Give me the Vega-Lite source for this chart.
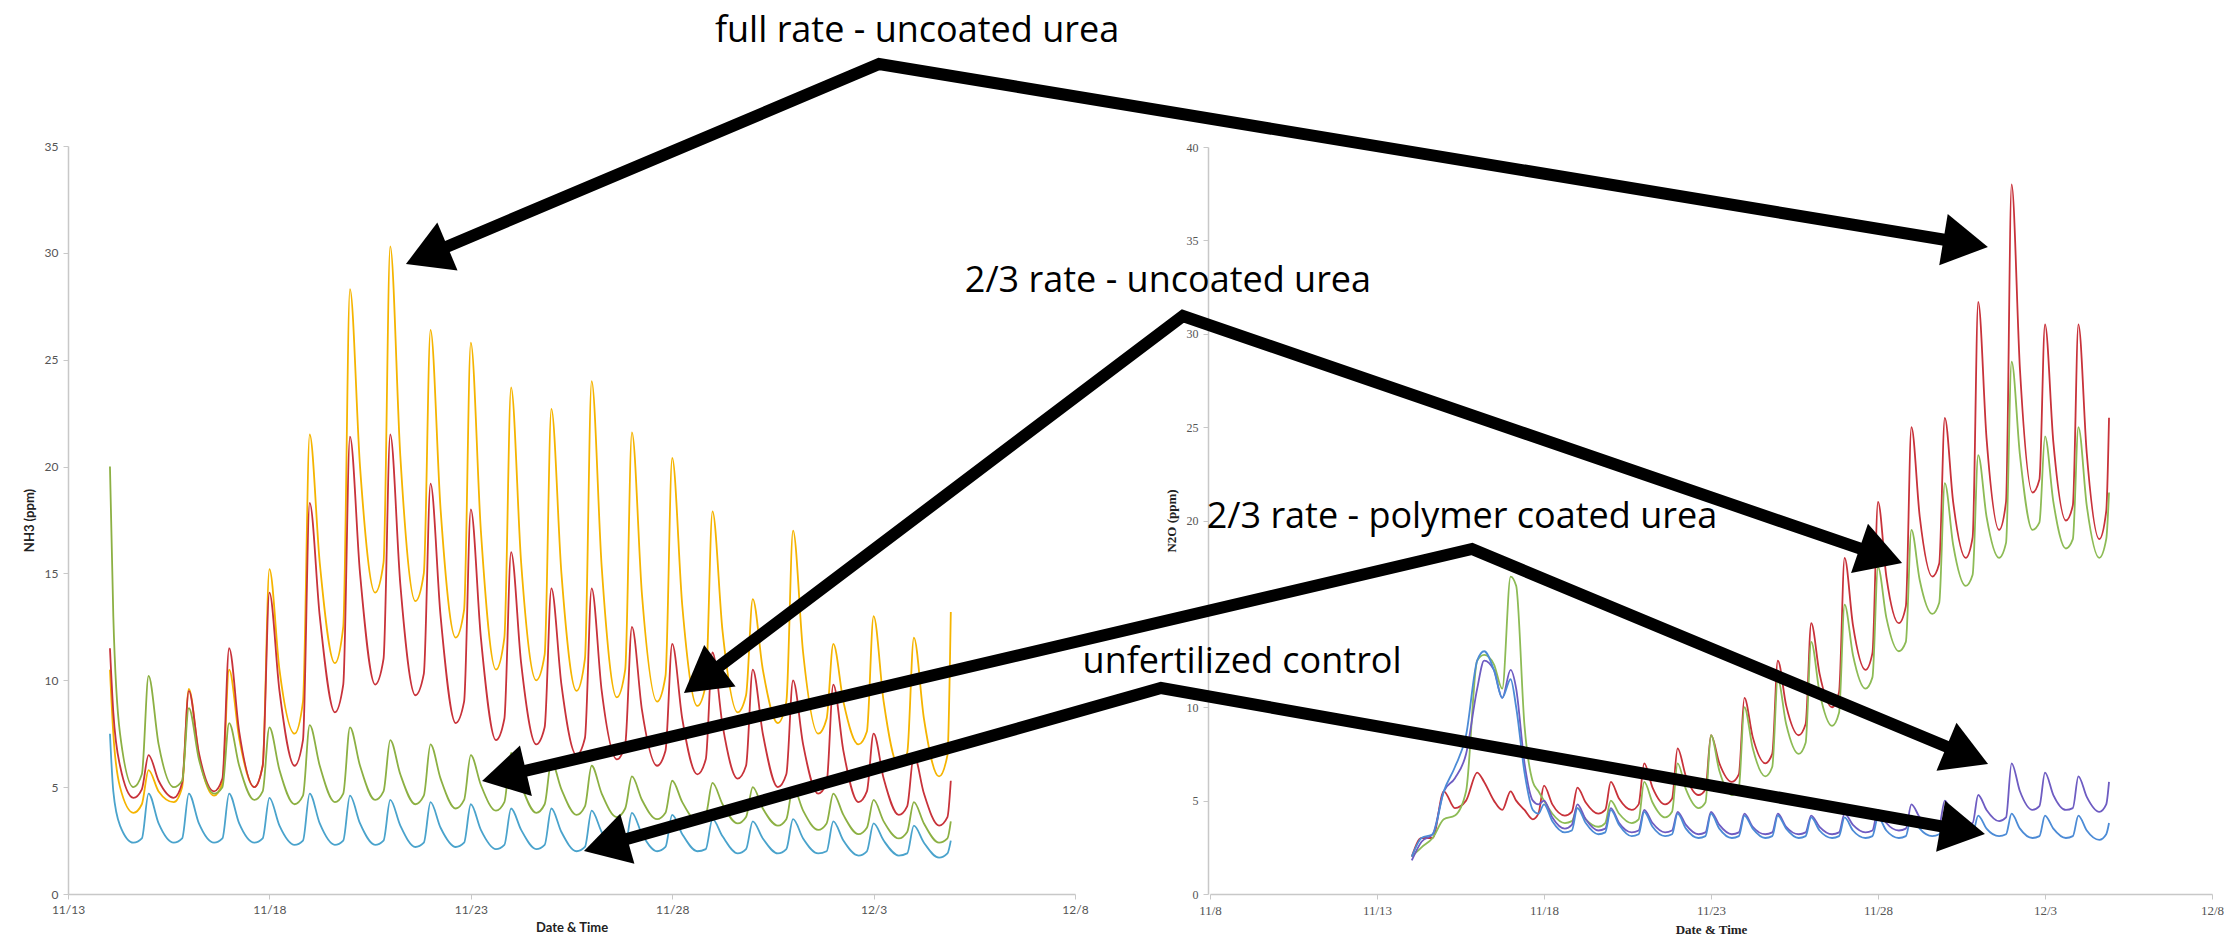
{
"$schema":"https://vega.github.io/schema/vega-lite/v6.json",
"width":2234,"height":894,"autosize":"none","padding":{"left":0,"top":0,"right":0,"bottom":53},
"background":"white",
"config":{"view":{"stroke":null}},
"datasets":{
"left":[
{"t":"2012-11-14T01:00","Y":10.5,"R":11.5,"G":20,"B":7.5},
{"t":"2012-11-14T03:00","Y":7.5,"R":8.5,"G":13,"B":4.8},
{"t":"2012-11-14T07:00","Y":5,"R":6,"G":7.5,"B":3.2},
{"t":"2012-11-14T15:00","Y":3.8,"R":4.5,"G":5,"B":2.4},
{"t":"2012-11-14T20:00","Y":4.2,"R":4.9,"G":5.6,"B":2.6},
{"t":"2012-11-15T00:00","Y":5.8,"R":6.5,"G":10.2,"B":4.7},
{"t":"2012-11-15T06:00","Y":4.8,"R":5.3,"G":7,"B":3.3},
{"t":"2012-11-15T15:00","Y":4.3,"R":4.5,"G":5,"B":2.4},
{"t":"2012-11-15T20:00","Y":5,"R":5.2,"G":5.3,"B":2.6},
{"t":"2012-11-16T00:00","Y":9.6,"R":9.5,"G":8.7,"B":4.7},
{"t":"2012-11-16T06:00","Y":6.5,"R":6.6,"G":6.3,"B":3.3},
{"t":"2012-11-16T15:00","Y":4.6,"R":4.8,"G":4.7,"B":2.4},
{"t":"2012-11-16T20:00","Y":5.2,"R":5.4,"G":5,"B":2.6},
{"t":"2012-11-17T00:00","Y":10.5,"R":11.5,"G":8,"B":4.7},
{"t":"2012-11-17T06:00","Y":7.3,"R":7.6,"G":6,"B":3.3},
{"t":"2012-11-17T15:00","Y":5,"R":5,"G":4.4,"B":2.4},
{"t":"2012-11-17T20:00","Y":6,"R":6,"G":4.8,"B":2.6},
{"t":"2012-11-18T00:00","Y":15.2,"R":14.1,"G":7.8,"B":4.5},
{"t":"2012-11-18T06:00","Y":10.5,"R":9.5,"G":5.8,"B":3.2},
{"t":"2012-11-18T15:00","Y":7.5,"R":6,"G":4.2,"B":2.3},
{"t":"2012-11-18T20:00","Y":9,"R":7.2,"G":4.6,"B":2.5},
{"t":"2012-11-19T00:00","Y":21.5,"R":18.3,"G":7.9,"B":4.7},
{"t":"2012-11-19T06:00","Y":15.5,"R":13,"G":6,"B":3.3},
{"t":"2012-11-19T15:00","Y":10.8,"R":8.5,"G":4.3,"B":2.3},
{"t":"2012-11-19T20:00","Y":12.5,"R":9.8,"G":4.7,"B":2.5},
{"t":"2012-11-20T00:00","Y":28.3,"R":21.4,"G":7.8,"B":4.6},
{"t":"2012-11-20T06:00","Y":20,"R":15,"G":6,"B":3.3},
{"t":"2012-11-20T15:00","Y":14.1,"R":9.8,"G":4.4,"B":2.3},
{"t":"2012-11-20T20:00","Y":15.5,"R":11,"G":4.8,"B":2.5},
{"t":"2012-11-21T00:00","Y":30.3,"R":21.5,"G":7.2,"B":4.4},
{"t":"2012-11-21T06:00","Y":20.5,"R":14.5,"G":5.6,"B":3.2},
{"t":"2012-11-21T15:00","Y":13.7,"R":9.3,"G":4.2,"B":2.2},
{"t":"2012-11-21T20:00","Y":15,"R":10.3,"G":4.6,"B":2.4},
{"t":"2012-11-22T00:00","Y":26.4,"R":19.2,"G":7,"B":4.3},
{"t":"2012-11-22T06:00","Y":18,"R":13,"G":5.4,"B":3.1},
{"t":"2012-11-22T15:00","Y":12,"R":8,"G":4,"B":2.2},
{"t":"2012-11-22T20:00","Y":13.3,"R":9,"G":4.4,"B":2.4},
{"t":"2012-11-23T00:00","Y":25.8,"R":18,"G":6.5,"B":4.2},
{"t":"2012-11-23T06:00","Y":17,"R":12,"G":5.1,"B":3},
{"t":"2012-11-23T15:00","Y":10.5,"R":7.2,"G":3.9,"B":2.1},
{"t":"2012-11-23T20:00","Y":12,"R":8.2,"G":4.3,"B":2.3},
{"t":"2012-11-24T00:00","Y":23.7,"R":16,"G":6.6,"B":4},
{"t":"2012-11-24T06:00","Y":15.5,"R":10.8,"G":5.1,"B":3},
{"t":"2012-11-24T15:00","Y":10,"R":7,"G":3.8,"B":2.1},
{"t":"2012-11-24T20:00","Y":11.2,"R":7.8,"G":4.2,"B":2.3},
{"t":"2012-11-25T00:00","Y":22.7,"R":14.3,"G":6.2,"B":4},
{"t":"2012-11-25T06:00","Y":15,"R":9.8,"G":4.9,"B":2.9},
{"t":"2012-11-25T15:00","Y":9.5,"R":6.5,"G":3.7,"B":2},
{"t":"2012-11-25T20:00","Y":11,"R":7.3,"G":4.1,"B":2.2},
{"t":"2012-11-26T00:00","Y":24,"R":14.3,"G":6,"B":3.9},
{"t":"2012-11-26T06:00","Y":15.3,"R":9.5,"G":4.7,"B":2.9},
{"t":"2012-11-26T15:00","Y":9.2,"R":6.3,"G":3.6,"B":2},
{"t":"2012-11-26T20:00","Y":10.5,"R":7,"G":4,"B":2.2},
{"t":"2012-11-27T00:00","Y":21.6,"R":12.5,"G":5.5,"B":3.8},
{"t":"2012-11-27T06:00","Y":14,"R":8.6,"G":4.4,"B":2.8},
{"t":"2012-11-27T15:00","Y":9,"R":6,"G":3.5,"B":2},
{"t":"2012-11-27T20:00","Y":10.2,"R":6.7,"G":3.8,"B":2.2},
{"t":"2012-11-28T00:00","Y":20.4,"R":11.7,"G":5.3,"B":3.7},
{"t":"2012-11-28T06:00","Y":13.5,"R":8.2,"G":4.3,"B":2.8},
{"t":"2012-11-28T15:00","Y":8.8,"R":5.6,"G":3.4,"B":2},
{"t":"2012-11-28T20:00","Y":9.8,"R":6.3,"G":3.7,"B":2.1},
{"t":"2012-11-29T00:00","Y":17.9,"R":11.3,"G":5.2,"B":3.5},
{"t":"2012-11-29T06:00","Y":12.3,"R":7.9,"G":4.2,"B":2.7},
{"t":"2012-11-29T15:00","Y":8.5,"R":5.4,"G":3.3,"B":1.9},
{"t":"2012-11-29T20:00","Y":9.3,"R":6,"G":3.6,"B":2.1},
{"t":"2012-11-30T00:00","Y":13.8,"R":10.5,"G":5,"B":3.4},
{"t":"2012-11-30T06:00","Y":10.5,"R":7.5,"G":4,"B":2.6},
{"t":"2012-11-30T15:00","Y":8,"R":5,"G":3.2,"B":1.9},
{"t":"2012-11-30T20:00","Y":9,"R":5.6,"G":3.5,"B":2.1},
{"t":"2012-12-01T00:00","Y":17,"R":10,"G":5,"B":3.5},
{"t":"2012-12-01T06:00","Y":11.3,"R":7,"G":3.9,"B":2.6},
{"t":"2012-12-01T15:00","Y":7.5,"R":4.7,"G":3,"B":1.9},
{"t":"2012-12-01T20:00","Y":8.2,"R":5.2,"G":3.3,"B":2},
{"t":"2012-12-02T00:00","Y":11.7,"R":9.8,"G":4.7,"B":3.4},
{"t":"2012-12-02T06:00","Y":9,"R":6.7,"G":3.7,"B":2.5},
{"t":"2012-12-02T15:00","Y":7,"R":4.3,"G":2.8,"B":1.8},
{"t":"2012-12-02T20:00","Y":7.6,"R":4.8,"G":3.1,"B":2},
{"t":"2012-12-03T00:00","Y":13,"R":7.5,"G":4.4,"B":3.3},
{"t":"2012-12-03T06:00","Y":9,"R":5.4,"G":3.4,"B":2.5},
{"t":"2012-12-03T15:00","Y":6,"R":3.7,"G":2.6,"B":1.8},
{"t":"2012-12-03T20:00","Y":6.6,"R":4.1,"G":2.9,"B":1.9},
{"t":"2012-12-04T00:00","Y":12,"R":6.5,"G":4.3,"B":3.2},
{"t":"2012-12-04T06:00","Y":8.2,"R":4.7,"G":3.3,"B":2.4},
{"t":"2012-12-04T15:00","Y":5.5,"R":3.2,"G":2.4,"B":1.7},
{"t":"2012-12-04T20:00","Y":6.5,"R":3.6,"G":2.6,"B":1.9},
{"t":"2012-12-04T22:00","Y":13.2,"R":5.3,"G":3.4,"B":2.5}
],
"right":[
{"t":"2012-11-14T01:00","R":2,"G":2,"P":1.8,"B":2},
{"t":"2012-11-14T08:00","R":3,"G":2.5,"P":2.8,"B":3},
{"t":"2012-11-14T16:00","R":3,"G":3,"P":3.2,"B":3.2},
{"t":"2012-11-15T00:00","R":5.5,"G":4,"P":5.5,"B":5.5},
{"t":"2012-11-15T08:00","R":4.6,"G":4.2,"P":6.2,"B":6.8},
{"t":"2012-11-15T16:00","R":5,"G":5.5,"P":7.5,"B":8.5},
{"t":"2012-11-16T00:00","R":6.5,"G":12.5,"P":11,"B":12.5},
{"t":"2012-11-16T05:00","R":6,"G":12.8,"P":12.5,"B":13},
{"t":"2012-11-16T12:00","R":5,"G":12.3,"P":12,"B":12},
{"t":"2012-11-16T18:00","R":4.5,"G":11,"P":10.5,"B":10.5},
{"t":"2012-11-17T00:00","R":5.5,"G":17,"P":12,"B":11.5},
{"t":"2012-11-17T04:00","R":5,"G":16.5,"P":11,"B":10},
{"t":"2012-11-17T10:00","R":4.5,"G":9,"P":7,"B":6.5},
{"t":"2012-11-17T16:00","R":4,"G":6,"P":5,"B":4.5},
{"t":"2012-11-17T20:00","R":4.3,"G":5.5,"P":4.8,"B":4.3},
{"t":"2012-11-18T00:00","R":5.8,"G":5,"P":5,"B":4.8},
{"t":"2012-11-18T06:00","R":4.8,"G":4.3,"P":4.1,"B":3.9},
{"t":"2012-11-18T15:00","R":4.2,"G":3.8,"P":3.5,"B":3.3},
{"t":"2012-11-18T20:00","R":4.4,"G":3.9,"P":3.7,"B":3.4},
{"t":"2012-11-19T00:00","R":5.7,"G":4.6,"P":4.8,"B":4.6},
{"t":"2012-11-19T06:00","R":4.9,"G":4,"P":4,"B":3.8},
{"t":"2012-11-19T15:00","R":4.3,"G":3.6,"P":3.4,"B":3.2},
{"t":"2012-11-19T20:00","R":4.5,"G":3.8,"P":3.5,"B":3.3},
{"t":"2012-11-20T00:00","R":6,"G":5,"P":4.6,"B":4.5},
{"t":"2012-11-20T06:00","R":5.1,"G":4.3,"P":3.8,"B":3.7},
{"t":"2012-11-20T15:00","R":4.5,"G":3.8,"P":3.3,"B":3.1},
{"t":"2012-11-20T20:00","R":4.8,"G":4,"P":3.4,"B":3.2},
{"t":"2012-11-21T00:00","R":7,"G":6,"P":4.5,"B":4.4},
{"t":"2012-11-21T06:00","R":5.7,"G":4.9,"P":3.8,"B":3.6},
{"t":"2012-11-21T15:00","R":4.8,"G":4.1,"P":3.3,"B":3.1},
{"t":"2012-11-21T20:00","R":5.1,"G":4.4,"P":3.4,"B":3.2},
{"t":"2012-11-22T00:00","R":7.8,"G":7,"P":4.4,"B":4.3},
{"t":"2012-11-22T06:00","R":6.3,"G":5.6,"P":3.7,"B":3.5},
{"t":"2012-11-22T15:00","R":5.3,"G":4.6,"P":3.2,"B":3},
{"t":"2012-11-22T20:00","R":5.6,"G":4.9,"P":3.3,"B":3.1},
{"t":"2012-11-23T00:00","R":8.5,"G":8.5,"P":4.4,"B":4.3},
{"t":"2012-11-23T06:00","R":7,"G":6.6,"P":3.7,"B":3.5},
{"t":"2012-11-23T15:00","R":6,"G":5.3,"P":3.2,"B":3},
{"t":"2012-11-23T20:00","R":6.4,"G":5.7,"P":3.3,"B":3.1},
{"t":"2012-11-24T00:00","R":10.5,"G":10,"P":4.3,"B":4.2},
{"t":"2012-11-24T06:00","R":8.4,"G":7.8,"P":3.6,"B":3.5},
{"t":"2012-11-24T15:00","R":7,"G":6.3,"P":3.2,"B":3},
{"t":"2012-11-24T20:00","R":7.5,"G":6.8,"P":3.3,"B":3.1},
{"t":"2012-11-25T00:00","R":12.5,"G":11.5,"P":4.3,"B":4.2},
{"t":"2012-11-25T06:00","R":10.1,"G":9.1,"P":3.6,"B":3.5},
{"t":"2012-11-25T15:00","R":8.5,"G":7.5,"P":3.2,"B":3},
{"t":"2012-11-25T20:00","R":9.1,"G":8.1,"P":3.3,"B":3.1},
{"t":"2012-11-26T00:00","R":14.5,"G":13.5,"P":4.2,"B":4.1},
{"t":"2012-11-26T06:00","R":11.8,"G":10.8,"P":3.6,"B":3.4},
{"t":"2012-11-26T15:00","R":10,"G":9,"P":3.2,"B":3},
{"t":"2012-11-26T20:00","R":10.8,"G":9.7,"P":3.3,"B":3.1},
{"t":"2012-11-27T00:00","R":18,"G":15.5,"P":4.3,"B":4.1},
{"t":"2012-11-27T06:00","R":14.4,"G":12.8,"P":3.7,"B":3.4},
{"t":"2012-11-27T15:00","R":12,"G":11,"P":3.3,"B":3},
{"t":"2012-11-27T20:00","R":12.9,"G":11.6,"P":3.4,"B":3.1},
{"t":"2012-11-28T00:00","R":21,"G":17.5,"P":4.5,"B":4.1},
{"t":"2012-11-28T06:00","R":17,"G":14.8,"P":3.8,"B":3.4},
{"t":"2012-11-28T15:00","R":14.5,"G":13,"P":3.4,"B":3},
{"t":"2012-11-28T20:00","R":15.4,"G":13.5,"P":3.5,"B":3.1},
{"t":"2012-11-29T00:00","R":25,"G":19.5,"P":4.8,"B":4.2},
{"t":"2012-11-29T06:00","R":20.2,"G":16.8,"P":4.1,"B":3.5},
{"t":"2012-11-29T15:00","R":17,"G":15,"P":3.6,"B":3.1},
{"t":"2012-11-29T20:00","R":17.7,"G":15.6,"P":3.7,"B":3.2},
{"t":"2012-11-30T00:00","R":25.5,"G":22,"P":5,"B":4.2},
{"t":"2012-11-30T06:00","R":21,"G":18.7,"P":4.2,"B":3.5},
{"t":"2012-11-30T15:00","R":18,"G":16.5,"P":3.7,"B":3.1},
{"t":"2012-11-30T20:00","R":19.1,"G":17.1,"P":3.8,"B":3.2},
{"t":"2012-12-01T00:00","R":31.7,"G":23.5,"P":5.3,"B":4.2},
{"t":"2012-12-01T06:00","R":24.4,"G":20.2,"P":4.5,"B":3.5},
{"t":"2012-12-01T15:00","R":19.5,"G":18,"P":3.9,"B":3.1},
{"t":"2012-12-01T20:00","R":21,"G":18.8,"P":4.1,"B":3.2},
{"t":"2012-12-02T00:00","R":38,"G":28.5,"P":7,"B":4.3},
{"t":"2012-12-02T06:00","R":28.1,"G":23.5,"P":5.5,"B":3.5},
{"t":"2012-12-02T15:00","R":21.5,"G":19.5,"P":4.5,"B":3},
{"t":"2012-12-02T20:00","R":22.2,"G":19.9,"P":4.7,"B":3.1},
{"t":"2012-12-03T00:00","R":30.5,"G":24.5,"P":6.5,"B":4.2},
{"t":"2012-12-03T06:00","R":24.2,"G":21,"P":5.3,"B":3.5},
{"t":"2012-12-03T15:00","R":20,"G":18.5,"P":4.5,"B":3},
{"t":"2012-12-03T20:00","R":20.8,"G":19,"P":4.6,"B":3.1},
{"t":"2012-12-04T00:00","R":30.5,"G":25,"P":6.3,"B":4.2},
{"t":"2012-12-04T06:00","R":23.6,"G":20.8,"P":5.2,"B":3.4},
{"t":"2012-12-04T15:00","R":19,"G":18,"P":4.4,"B":2.9},
{"t":"2012-12-04T20:00","R":20.5,"G":19,"P":4.8,"B":3.2},
{"t":"2012-12-04T22:00","R":25.5,"G":21.5,"P":6,"B":3.8}
],
"arrows":[
{"a":1,"o":0,"x":19.10,"y":26.95},{"a":1,"o":1,"x":39.35,"y":6.76},{"a":1,"o":2,"x":87.99,"y":25.69},
{"a":2,"o":0,"x":31.42,"y":71.74},{"a":2,"o":1,"x":52.95,"y":33.37},{"a":2,"o":2,"x":84.19,"y":58.68},
{"a":3,"o":0,"x":22.56,"y":81.93},{"a":3,"o":1,"x":65.89,"y":57.97},{"a":3,"o":2,"x":88.06,"y":79.76},
{"a":4,"o":0,"x":27.11,"y":89.22},{"a":4,"o":1,"x":51.97,"y":72.65},{"a":4,"o":2,"x":87.86,"y":87.66}
],
"heads":[
{"x":19.10,"y":26.95,"ang":247.1},{"x":87.99,"y":25.69,"ang":99.4},
{"x":31.42,"y":71.74,"ang":232.9},{"x":84.19,"y":58.68,"ang":109.0},
{"x":22.56,"y":81.93,"ang":256.8},{"x":88.06,"y":79.76,"ang":112.6},
{"x":27.11,"y":89.22,"ang":254.2},{"x":87.86,"y":87.66,"ang":100.0}
],
"labels":[
{"x":41.05,"y":3.27,"text":"full rate - uncoated urea"},
{"x":52.28,"y":29.67,"text":"2/3 rate - uncoated urea"},
{"x":65.44,"y":54.6,"text":"2/3 rate - polymer coated urea"},
{"x":55.6,"y":69.9,"text":"unfertilized control"}
]
},
"layer":[
{
"data":{"name":"left"},
"transform":[{"fold":["Y","R","G","B"],"as":["series","value"]}],
"mark":{"type":"line","strokeWidth":1.8,"interpolate":"monotone","clip":false},
"encoding":{
"x":{"field":"t","type":"temporal","scale":{"domain":[{"year":2012,"month":11,"date":13},{"year":2012,"month":12,"date":8}],"range":[68,1075],"nice":false},
"axis":{"orient":"bottom","values":[{"year":2012,"month":11,"date":13},{"year":2012,"month":11,"date":18},{"year":2012,"month":11,"date":23},{"year":2012,"month":11,"date":28},{"year":2012,"month":12,"date":3},{"year":2012,"month":12,"date":8}],"format":"%-m/%-d","title":"Date & Time","grid":false,"labelFont":"Lato","labelFontSize":12,"labelColor":"#555555","titleFont":"Lato","titleFontSize":13,"titleFontWeight":"bold","titleColor":"#222222","domainColor":"#c8c8c8","domainWidth":1.5,"tickColor":"#c8c8c8","tickSize":5,"labelPadding":5,"titlePadding":6,"labelFlush":false,"labelOverlap":false}},
"y":{"field":"value","type":"quantitative","scale":{"domain":[0,35],"range":[894,146],"nice":false,"zero":true},
"axis":{"orient":"left","offset":-68,"values":[0,5,10,15,20,25,30,35],"title":"NH3 (ppm)","grid":false,"labelFont":"Lato","labelFontSize":12,"labelColor":"#555555","titleFont":"Lato","titleFontSize":13,"titleFontWeight":"bold","titleColor":"#222222","domainColor":"#c8c8c8","domainWidth":1.5,"tickColor":"#c8c8c8","tickSize":5,"labelPadding":5,"titlePadding":8}},
"color":{"field":"series","type":"nominal","scale":{"domain":["Y","R","G","B"],"range":["#F5B400","#C8323A","#8CB043","#4AA3CC"]},"legend":null}
}
},
{
"data":{"name":"right"},
"transform":[{"fold":["R","G","P","B"],"as":["series","value"]}],
"mark":{"type":"line","strokeWidth":1.8,"interpolate":"monotone","clip":false},
"encoding":{
"x":{"field":"t","type":"temporal","scale":{"domain":[{"year":2012,"month":11,"date":8},{"year":2012,"month":12,"date":8}],"range":[1210,2212],"nice":false},
"axis":{"orient":"bottom","values":[{"year":2012,"month":11,"date":8},{"year":2012,"month":11,"date":13},{"year":2012,"month":11,"date":18},{"year":2012,"month":11,"date":23},{"year":2012,"month":11,"date":28},{"year":2012,"month":12,"date":3},{"year":2012,"month":12,"date":8}],"format":"%-m/%-d","title":"Date & Time","grid":false,"labelFont":"Liberation Serif","labelFontSize":13,"labelColor":"#555555","titleFont":"Liberation Serif","titleFontSize":13,"titleFontWeight":"bold","titleColor":"#222222","domainColor":"#c8c8c8","domainWidth":1.5,"tickColor":"#c8c8c8","tickSize":5,"labelPadding":5,"titlePadding":6,"labelFlush":false,"labelOverlap":false}},
"y":{"field":"value","type":"quantitative","scale":{"domain":[0,40],"range":[894,147],"nice":false,"zero":true},
"axis":{"orient":"left","offset":-1208,"values":[0,5,10,15,20,25,30,35,40],"title":"N2O (ppm)","grid":false,"labelFont":"Liberation Serif","labelFontSize":12,"labelColor":"#555555","titleFont":"Liberation Serif","titleFontSize":13,"titleFontWeight":"bold","titleColor":"#222222","domainColor":"#c8c8c8","domainWidth":1.5,"tickColor":"#c8c8c8","tickSize":5,"labelPadding":5,"titlePadding":8}},
"color":{"field":"series","type":"nominal","scale":{"domain":["R","G","P","B"],"range":["#C8323A","#8DBB55","#6E5CC2","#4C8BD6"]},"legend":null}
}
},
{
"data":{"name":"arrows"},
"mark":{"type":"line","color":"black","strokeWidth":12,"strokeJoin":"miter","strokeCap":"butt","clip":false},
"encoding":{
"x":{"field":"x","type":"quantitative","scale":{"domain":[0,100],"range":[0,2234],"nice":false,"zero":false},"axis":null},
"y":{"field":"y","type":"quantitative","scale":{"domain":[0,100],"range":[0,947],"nice":false,"zero":false},"axis":null},
"detail":{"field":"a","type":"nominal"},
"order":{"field":"o","type":"quantitative"}
}
},
{
"data":{"name":"heads"},
"mark":{"type":"point","shape":"triangle-up","filled":true,"color":"black","opacity":1,"size":2704,"clip":false},
"encoding":{
"x":{"field":"x","type":"quantitative","scale":{"domain":[0,100],"range":[0,2234],"nice":false,"zero":false},"axis":null},
"y":{"field":"y","type":"quantitative","scale":{"domain":[0,100],"range":[0,947],"nice":false,"zero":false},"axis":null},
"angle":{"field":"ang","type":"quantitative","scale":null}
}
},
{
"data":{"name":"labels"},
"mark":{"type":"text","font":"Open Sans","fontSize":36,"color":"black","align":"center","baseline":"middle","clip":false},
"encoding":{
"x":{"field":"x","type":"quantitative","scale":{"domain":[0,100],"range":[0,2234],"nice":false,"zero":false},"axis":null},
"y":{"field":"y","type":"quantitative","scale":{"domain":[0,100],"range":[0,947],"nice":false,"zero":false},"axis":null},
"text":{"field":"text","type":"nominal"}
}
}
],
"resolve":{"scale":{"x":"independent","y":"independent","color":"independent"},"axis":{"x":"independent","y":"independent"}}
}
